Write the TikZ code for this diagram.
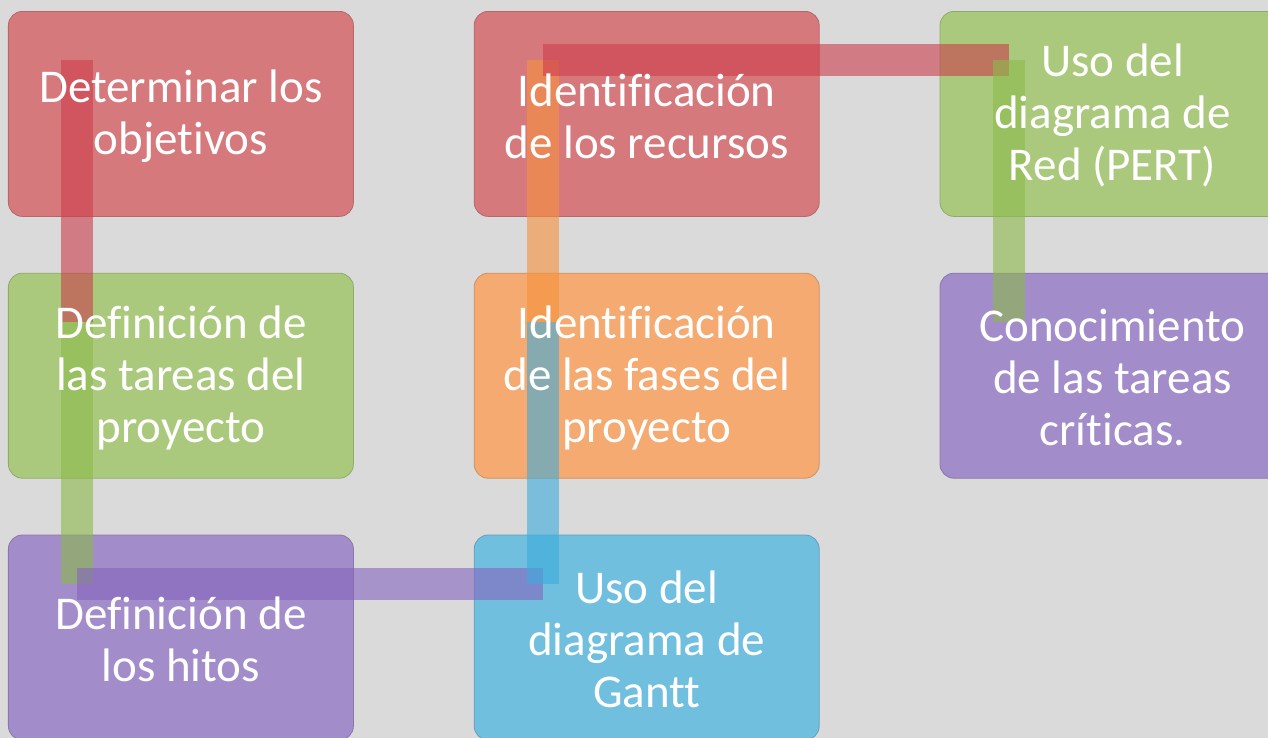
\documentclass[tikz,border=0pt]{standalone}
\usepackage{fontspec}
\setmainfont{Carlito}[Ligatures=NoCommon]
\usetikzlibrary{calc}

\definecolor{bggray}{RGB}{218,218,218}
\definecolor{boxred}{RGB}{214,121,125}
\definecolor{boxgreen}{RGB}{170,201,124}
\definecolor{boxorange}{RGB}{244,170,112}
\definecolor{boxpurple}{RGB}{162,140,201}
\definecolor{boxblue}{RGB}{112,191,222}
\definecolor{linkred}{RGB}{204,62,76}
\definecolor{linkgreen}{RGB}{140,186,74}
\definecolor{linkorange}{RGB}{247,146,60}
\definecolor{linkpurple}{RGB}{132,100,190}
\definecolor{linkblue}{RGB}{60,172,220}

\begin{document}
\begin{tikzpicture}[x=1pt,y=-1pt,
						every node/.style={outer sep=0pt},
						box/.style={rectangle,rounded corners=14pt,
						minimum width=345pt,minimum height=205pt,inner sep=0pt,
						fill=#1,draw=#1!85!black,line width=0.8pt},
						link/.style={line width=32pt,draw=#1,draw opacity=0.6},
						lbl/.style={text=white,align=center,
						font=\fontsize{47}{52}\selectfont}]

		\useasboundingbox (0,0) rectangle (1268,738);
		\fill[bggray] (0,0) rectangle (1268,738);

		\matrix[anchor=north west,inner sep=0pt,column sep=120pt,row sep=56pt] at (8,11)
		{
			\node[box=boxred] (b1) {};    & \node[box=boxred] (b6) {};    & \node[box=boxgreen] (b7) {};\\
			\node[box=boxgreen] (b2) {};  & \node[box=boxorange] (b5) {}; & \node[box=boxpurple] (b8) {};\\
			\node[box=boxpurple] (b3) {}; & \node[box=boxblue] (b4) {};   & \\
		};

		\foreach \i in {1,...,8}
			\coordinate (k\i) at ($(b\i.north west)+(69,49)$);

		\draw[link=linkred] (k1) -- (k2);
		\draw[link=linkgreen] (k2) -- (k3);
		\draw[link=linkpurple] (k3) -- (k4);
		\draw[link=linkblue] (k4) -- (k5);
		\draw[link=linkorange] (k5) -- (k6);
		\draw[link=linkred] (k6) -- (k7);
		\draw[link=linkgreen] (k7) -- (k8);

		\node[lbl] (t1) at ($(b1)+(0,2)$) {Determinar los\\objetivos};
		\node[lbl] (t2) at ($(b2)+(0,2)$) {Definición de\\las tareas del\\proyecto};
		\node[lbl] (t3) at ($(b3)+(0,2)$) {Definición de\\los hitos};
		\node[lbl] (t4) at ($(b4)+(0,2)$) {Uso del\\diagrama de\\Gantt};
		\node[lbl] (t5) at ($(b5)+(0,2)$) {Identificación\\de las fases del\\proyecto};
		\node[lbl] (t6) at ($(b6)+(0,2)$) {Identificación\\de los recursos};
		\node[lbl] (t7) at ($(b7)+(0,2)$) {Uso del\\diagrama de\\Red (PERT)};
		\node[lbl] (t8) at ($(b8)+(0,2)$) {Conocimiento\\de las tareas\\críticas.};

	\end{tikzpicture}
\end{document}
